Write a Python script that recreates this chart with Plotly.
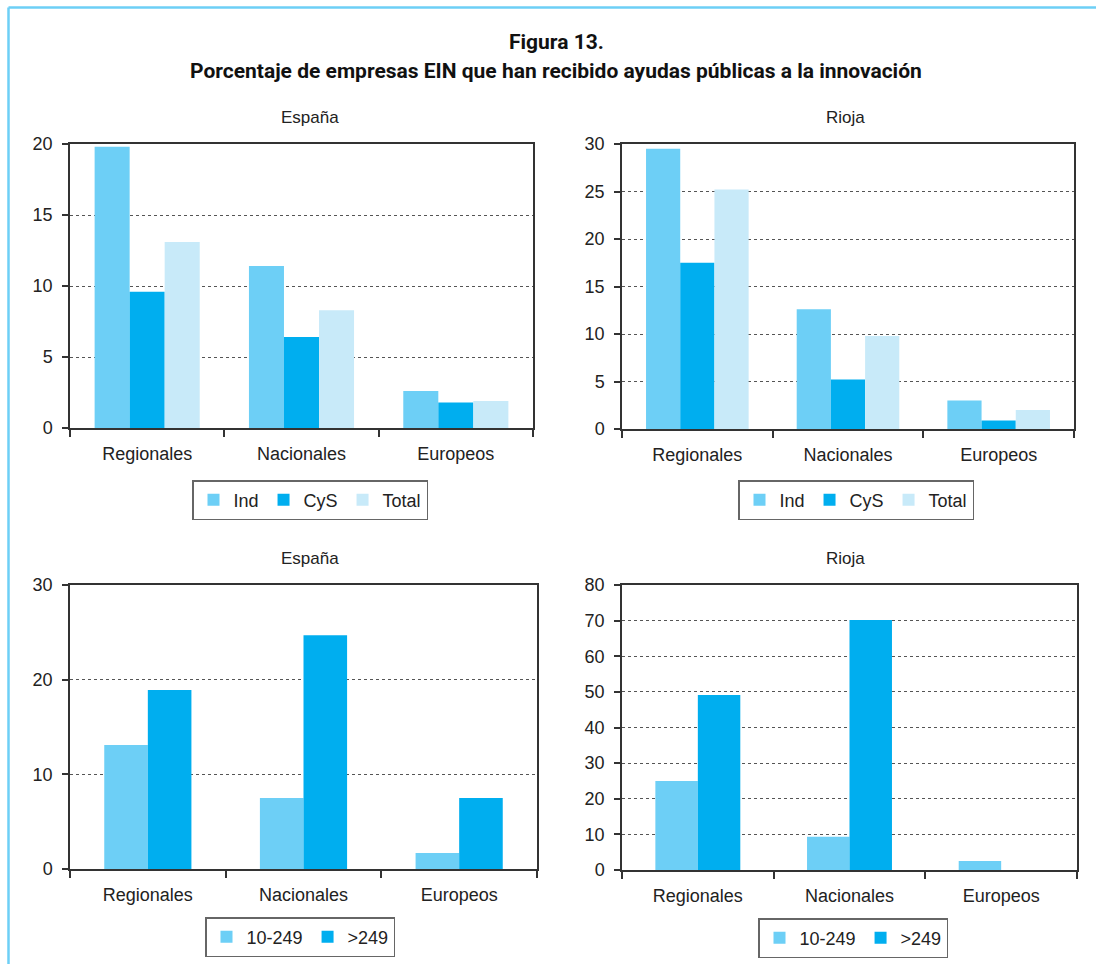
import plotly.graph_objects as go

# ---- data ----
categorias = ["Regionales", "Nacionales", "Europeos"]

# Percentage by sector (Ind = industria, CyS = construcción y servicios)
espana_ind = [19.8, 11.4, 2.6]
espana_cys = [9.6, 6.4, 1.8]
espana_total = [13.1, 8.3, 1.9]

rioja_ind = [29.5, 12.6, 3.0]
rioja_cys = [17.5, 5.2, 0.9]
rioja_total = [25.2, 9.8, 2.0]

# Percentage by firm size
espana_10_249 = [13.1, 7.5, 1.7]
espana_249 = [18.9, 24.7, 7.5]

rioja_10_249 = [25.0, 9.3, 2.5]
rioja_249 = [49.1, 70.2, 0.0]

W, H = 1096, 964

C_IND = "#6DCFF6"
C_CYS = "#00AEEF"
C_TOT = "#C8EAF9"

FONT = "Liberation Sans, Arial, Helvetica, sans-serif"
FONT_NARROW = "Liberation Sans Narrow, Arial Narrow, Roboto, Liberation Sans, sans-serif"


def px_x(v):
    return v / W


def px_y(v):
    return 1 - v / H


fig = go.Figure()

# panel geometry in pixels: (left, right, top, bottom)
panels = {
    1: (70, 533, 144, 428),
    2: (622, 1074, 144, 429),
    3: (70, 537, 585, 869),
    4: (622, 1077, 585, 870),
}

# three-bar groups
w3 = 0.227
off3 = [-1.5 * w3, -0.5 * w3, 0.5 * w3]
# two-bar groups
w2 = 0.28
off2 = [-w2, 0.0]

groups = [
    (1, "legend", [("Ind", espana_ind, C_IND), ("CyS", espana_cys, C_CYS), ("Total", espana_total, C_TOT)], w3, off3),
    (2, "legend2", [("Ind", rioja_ind, C_IND), ("CyS", rioja_cys, C_CYS), ("Total", rioja_total, C_TOT)], w3, off3),
    (3, "legend3", [("10-249", espana_10_249, C_IND), (">249", espana_249, C_CYS)], w2, off2),
    (4, "legend4", [("10-249", rioja_10_249, C_IND), (">249", rioja_249, C_CYS)], w2, off2),
]

for idx, leg, series, width, offsets in groups:
    xa = "x" if idx == 1 else f"x{idx}"
    ya = "y" if idx == 1 else f"y{idx}"
    for (name, vals, col), off in zip(series, offsets):
        fig.add_trace(go.Bar(
            x=categorias, y=vals, name=name,
            marker=dict(color=col, line=dict(width=0)),
            width=width, offset=off,
            xaxis=xa, yaxis=ya, legend=leg,
            hovertemplate="%{x}: %{y}<extra>" + name + "</extra>",
        ))

y_ranges = {1: (20, 5), 2: (30, 5), 3: (30, 10), 4: (80, 10)}

axis_common = dict(
    showline=True, linecolor="#333333", linewidth=1.5, mirror=True,
    tickfont=dict(family=FONT, size=18, color="#222222"),
    automargin=False,
)

layout_axes = {}
for idx, (l, r, t, b) in panels.items():
    sx = "" if idx == 1 else str(idx)
    ymax, dt = y_ranges[idx]
    layout_axes[f"xaxis{sx}"] = dict(
        domain=[px_x(l), px_x(r)], anchor=f"y{sx}",
        type="category", range=[-0.5, 2.5],
        ticks="outside", tickson="boundaries", ticklen=7, tickwidth=1.5, tickcolor="#333333",
        showgrid=False, ticklabelstandoff=9,
        **axis_common,
    )
    layout_axes[f"yaxis{sx}"] = dict(
        domain=[px_y(b), px_y(t)], anchor=f"x{sx}",
        range=[0, ymax], dtick=dt, tick0=0,
        ticks="outside", ticklen=6, tickwidth=1.5, tickcolor="#333333",
        showgrid=True, gridcolor="#555555", gridwidth=1, griddash="dot",
        zeroline=False, ticklabelstandoff=6,
        **axis_common,
    )

legend_common = dict(
    orientation="h", xanchor="left", yanchor="top",
    bordercolor="#666666", borderwidth=1.5, bgcolor="white",
    font=dict(family=FONT, size=18, color="#222222"),
    tracegroupgap=0,
)

fig.update_layout(
    template="none",
    width=W, height=H,
    margin=dict(l=0, r=0, t=0, b=0, pad=0, autoexpand=False),
    paper_bgcolor="white", plot_bgcolor="white",
    barmode="overlay",
    showlegend=True,
    legend=dict(x=px_x(192), y=px_y(480), **legend_common),
    legend2=dict(x=px_x(738), y=px_y(480), **legend_common),
    legend3=dict(x=px_x(205), y=px_y(917), **legend_common),
    legend4=dict(x=px_x(758), y=px_y(918), **legend_common),
    **layout_axes,
)

title_font = dict(family=FONT_NARROW, size=21, color="#111111")
sub_font = dict(family=FONT, size=17, color="#222222")
annotations = [
    dict(text="<b>Figura 13.</b>", x=px_x(556), y=px_y(42), font=title_font),
    dict(text="<b>Porcentaje de empresas EIN que han recibido ayudas públicas a la innovación</b>",
         x=px_x(556), y=px_y(71), font=title_font),
    dict(text="España", x=px_x(310), y=px_y(117), font=sub_font),
    dict(text="Rioja", x=px_x(845), y=px_y(117), font=sub_font),
    dict(text="España", x=px_x(310), y=px_y(558), font=sub_font),
    dict(text="Rioja", x=px_x(845), y=px_y(558), font=sub_font),
]
for a in annotations:
    a.update(xref="paper", yref="paper", xanchor="center", yanchor="middle", showarrow=False)
fig.update_layout(annotations=annotations)

# light blue frame along the top and left edges
fig.add_shape(type="line", xref="paper", yref="paper",
              x0=px_x(8.5), x1=1.0, y0=px_y(7.5), y1=px_y(7.5),
              line=dict(color="#6DCFF6", width=2.5))
fig.add_shape(type="line", xref="paper", yref="paper",
              x0=px_x(8.5), x1=px_x(8.5), y0=0.0, y1=px_y(7.5),
              line=dict(color="#6DCFF6", width=2.5))

fig.write_html("out.html")
